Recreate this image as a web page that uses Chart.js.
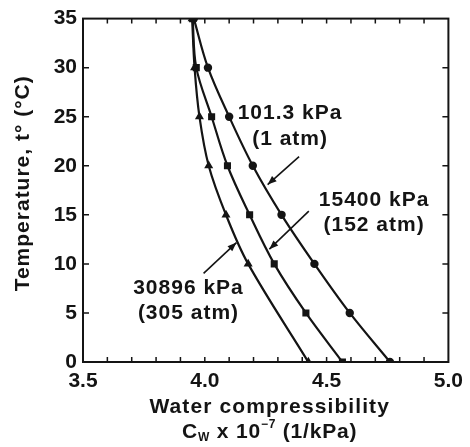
<!DOCTYPE html>
<html><head><meta charset="utf-8">
<script src="https://cdn.jsdelivr.net/npm/chart.js@4.4.1/dist/chart.umd.min.js"></script>
<style>html,body{margin:0;padding:0;background:#fff}</style>
</head><body>
<canvas id="c" width="470" height="447"></canvas>
<script>
// ---- data ----
const temperatures = [0, 5, 10, 15, 20, 25, 30, 35];
const cw_101kPa   = [4.76, 4.595, 4.45, 4.315, 4.197, 4.10, 4.013, 3.955];
const cw_15400kPa = [4.565, 4.415, 4.285, 4.184, 4.093, 4.028, 3.965, 3.95];
const temperatures_30896 = [0, 10, 15, 20, 25, 30, 35];
const cw_30896kPa = [4.425, 4.178, 4.087, 4.016, 3.978, 3.958, 3.948];
const xTickLabels = ['3.5', '4.0', '4.5', '5.0'];
const yTickLabels = ['0', '5', '10', '15', '20', '25', '30', '35'];
const seriesNames = ['101.3 kPa (1 atm)', '15400 kPa (152 atm)', '30896 kPa (305 atm)'];
const calloutText = [['101.3 kPa', '(1 atm)'], ['15400 kPa', '(152 atm)'], ['30896 kPa', '(305 atm)']];
const xTitle = 'Water compressibility';
const yTitle = 'Temperature, t\u00B0 (\u00B0C)';

const toPts = (xs, ys) => xs.map((v, i) => ({x: v, y: ys[i]}));
const FONT = '"Liberation Sans", Arial, sans-serif';
const INK = '#141414';

// callouts placed in data coordinates
const callouts = [
  {text: calloutText[0], at: [4.35, 25.4, 22.75], arrow: [4.387, 20.94, 4.258, 18.08]},
  {text: calloutText[1], at: [4.695, 16.5, 13.96], arrow: [4.427, 15.38, 4.265, 11.5]},
  {text: calloutText[2], at: [3.933, 7.5, 4.96], arrow: [3.995, 9.03, 4.13, 12.17]}
];

const decor = {
  id: 'decor',
  afterDraw(chart) {
    const {ctx, chartArea: a, scales: {x, y}} = chart;
    ctx.save();
    ctx.strokeStyle = INK; ctx.fillStyle = INK;
    // frame
    ctx.lineWidth = 2;
    ctx.strokeRect(a.left, a.top, a.right - a.left, a.bottom - a.top);
    // inward ticks
    ctx.lineWidth = 1.5;
    ctx.beginPath();
    x.ticks.forEach(t => {
      const px = x.getPixelForValue(t.value);
      if (px <= a.left + 1 || px >= a.right - 1) return;
      ctx.moveTo(px, a.bottom); ctx.lineTo(px, a.bottom - 5);
      ctx.moveTo(px, a.top); ctx.lineTo(px, a.top + 5);
    });
    y.ticks.forEach(t => {
      const py = y.getPixelForValue(t.value);
      if (py <= a.top + 1 || py >= a.bottom - 1) return;
      ctx.moveTo(a.left, py); ctx.lineTo(a.left + 6, py);
      ctx.moveTo(a.right, py); ctx.lineTo(a.right - 6, py);
    });
    ctx.stroke();

    // callouts
    ctx.font = 'bold 21px ' + FONT;
    if ('letterSpacing' in ctx) ctx.letterSpacing = '1px';
    ctx.textAlign = 'center'; ctx.textBaseline = 'middle';
    callouts.forEach(c => {
      const cx = x.getPixelForValue(c.at[0]);
      ctx.fillText(c.text[0], cx, y.getPixelForValue(c.at[1]));
      ctx.fillText(c.text[1], cx, y.getPixelForValue(c.at[2]));
      const x1 = x.getPixelForValue(c.arrow[0]), y1 = y.getPixelForValue(c.arrow[1]);
      const x2 = x.getPixelForValue(c.arrow[2]), y2 = y.getPixelForValue(c.arrow[3]);
      ctx.lineWidth = 1.6;
      ctx.beginPath(); ctx.moveTo(x1, y1); ctx.lineTo(x2, y2); ctx.stroke();
      const ang = Math.atan2(y2 - y1, x2 - x1), L = 9, W = 3.5;
      ctx.beginPath();
      ctx.moveTo(x2, y2);
      ctx.lineTo(x2 - L * Math.cos(ang) + W * Math.sin(ang), y2 - L * Math.sin(ang) - W * Math.cos(ang));
      ctx.lineTo(x2 - L * Math.cos(ang) - W * Math.sin(ang), y2 - L * Math.sin(ang) + W * Math.cos(ang));
      ctx.closePath(); ctx.fill();
    });

    // x title (two lines, with subscript and superscript)
    const midX = (a.left + a.right) / 2 + 4;
    ctx.textAlign = 'center'; ctx.textBaseline = 'alphabetic';
    ctx.font = 'bold 21px ' + FONT;
    if ('letterSpacing' in ctx) ctx.letterSpacing = '1.1px';
    ctx.fillText(xTitle, midX, a.bottom + 51);
    const parts = [
      {t: 'C', f: 'bold 21px ', dy: 0},
      {t: 'W', f: 'bold 12px ', dy: 3},
      {t: ' x 10', f: 'bold 21px ', dy: 0},
      {t: '\u22127', f: 'bold 12px ', dy: -10},
      {t: ' (1/kPa)', f: 'bold 21px ', dy: 0}
    ];
    if ('letterSpacing' in ctx) ctx.letterSpacing = '0.8px';
    let total = 0;
    parts.forEach(p => { ctx.font = p.f + FONT; p.w = ctx.measureText(p.t).width; total += p.w; });
    let cx = midX - total / 2;
    ctx.textAlign = 'left';
    parts.forEach(p => { ctx.font = p.f + FONT; ctx.fillText(p.t, cx, a.bottom + 76 + p.dy); cx += p.w; });

    // y title
    ctx.save();
    ctx.translate(23, (a.top + a.bottom) / 2 - 7);
    ctx.rotate(-Math.PI / 2);
    ctx.font = 'bold 21px ' + FONT;
    if ('letterSpacing' in ctx) ctx.letterSpacing = '1px';
    ctx.textAlign = 'center'; ctx.textBaseline = 'middle';
    ctx.fillText(yTitle, 0, 0);
    ctx.restore();
    ctx.restore();
  }
};

const lineStyle = {borderColor: INK, backgroundColor: INK, borderWidth: 2.2, showLine: true,
  tension: 0.35, pointBorderColor: INK, pointBackgroundColor: INK, pointBorderWidth: 0};

new Chart(document.getElementById('c'), {
  type: 'scatter',
  data: {
    datasets: [
      Object.assign({label: seriesNames[0], data: toPts(cw_101kPa, temperatures), pointStyle: 'circle', pointRadius: 4.2}, lineStyle),
      Object.assign({label: seriesNames[1], data: toPts(cw_15400kPa, temperatures), pointStyle: 'rect', pointRadius: 5}, lineStyle),
      Object.assign({label: seriesNames[2], data: toPts(cw_30896kPa, temperatures_30896), pointStyle: 'triangle', pointRadius: 5.2}, lineStyle)
    ]
  },
  options: {
    responsive: false,
    animation: false,
    layout: {padding: {left: 0, right: 17, top: 16, bottom: 0}},
    plugins: {legend: {display: false}, tooltip: {enabled: false}},
    scales: {
      x: {
        type: 'linear', min: 3.5, max: 5.0,
        afterFit(s) { s.height = 85; },
        ticks: {
          stepSize: 0.1, autoSkip: false, maxRotation: 0, padding: 7, color: INK,
          font: {family: FONT, size: 21, weight: 'bold'},
          callback(v) {
            const s = Number(v).toFixed(1);
            return xTickLabels.includes(s) ? s : '';
          }
        },
        grid: {display: false, drawTicks: false},
        border: {display: false}
      },
      y: {
        type: 'linear', min: 0, max: 35,
        afterFit(s) { s.width = 83; },
        ticks: {
          stepSize: 5, padding: 6, color: INK,
          font: {family: FONT, size: 21, weight: 'bold'},
          callback(v) { const s = String(v); return yTickLabels.includes(s) ? s : ''; }
        },
        grid: {display: false, drawTicks: false},
        border: {display: false}
      }
    }
  },
  plugins: [decor]
});
</script>
</body></html>
